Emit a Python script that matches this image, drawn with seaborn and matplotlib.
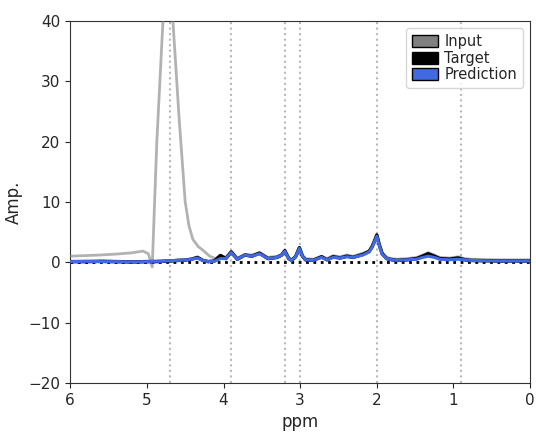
"""MRS spectrum: input vs target vs prediction."""

import numpy as np
import pandas as pd
import matplotlib
matplotlib.use("Agg")
import matplotlib.pyplot as plt
from matplotlib.patches import Patch
import seaborn as sns

# --- data --------------------------------------------------------------
ppm_input = [6.0, 5.8, 5.6, 5.4, 5.2, 5.05, 4.98, 4.93, 4.87, 4.79, 4.73, 4.66,
             4.58, 4.50, 4.45, 4.40, 4.33, 4.27, 4.18, 4.10, 4.04, 3.97, 3.90,
             3.82, 3.72, 3.63, 3.53, 3.42, 3.30, 3.24, 3.20, 3.15, 3.11, 3.06,
             3.01, 2.97, 2.93, 2.83, 2.72, 2.65, 2.57, 2.48, 2.39, 2.31, 2.18,
             2.10, 2.06, 2.03, 2.00, 1.97, 1.93, 1.87, 1.80, 1.74, 1.61, 1.48,
             1.40, 1.33, 1.25, 1.18, 1.05, 0.94, 0.85, 0.78, 0.6, 0.4, 0.2, 0.0]
amp_input = [1.0, 1.1, 1.2, 1.35, 1.55, 1.85, 1.4, -0.8, 20.0, 40.0, 55.0, 40.0,
             24.0, 10.0, 6.0, 3.8, 2.6, 2.0, 1.0, 0.6, 1.2, 0.8, 1.8,
             0.7, 1.3, 1.2, 1.6, 0.8, 1.0, 1.3, 2.0, 0.8, 0.5, 1.0,
             2.5, 1.1, 0.6, 0.5, 1.0, 0.6, 1.1, 0.9, 1.2, 1.0, 1.5,
             1.9, 2.7, 3.6, 4.6, 3.1, 1.6, 0.8, 0.6, 0.5, 0.6, 0.8,
             1.2, 1.6, 1.2, 0.8, 0.7, 0.9, 0.6, 0.5, 0.45, 0.4, 0.4, 0.4]

ppm = [6.0, 5.8, 5.6, 5.4, 5.2, 5.0, 4.9, 4.8, 4.7, 4.6, 4.5, 4.42, 4.34, 4.27,
       4.2, 4.12, 4.04, 3.97, 3.90, 3.82, 3.72, 3.63, 3.53, 3.42, 3.30, 3.24,
       3.20, 3.15, 3.11, 3.06, 3.01, 2.97, 2.93, 2.83, 2.72, 2.65, 2.57, 2.48,
       2.39, 2.31, 2.18, 2.10, 2.06, 2.03, 2.00, 1.97, 1.93, 1.87, 1.80, 1.74,
       1.61, 1.48, 1.40, 1.33, 1.25, 1.18, 1.05, 0.94, 0.85, 0.78, 0.6, 0.4,
       0.2, 0.0]
amp_target = [0.1, 0.1, 0.15, 0.1, 0.05, 0.1, 0.1, 0.15, 0.2, 0.3, 0.35, 0.5,
              0.8, 0.3, 0.1, 0.2, 1.1, 0.6, 1.7, 0.5, 1.2, 1.0, 1.5, 0.6, 0.8,
              1.2, 1.9, 0.6, 0.3, 0.9, 2.4, 1.0, 0.4, 0.3, 0.9, 0.4, 0.9, 0.7,
              1.0, 0.8, 1.3, 1.8, 2.6, 3.5, 4.5, 3.0, 1.4, 0.6, 0.4, 0.3,
              0.4, 0.6, 1.0, 1.4, 1.0, 0.6, 0.5, 0.7, 0.4, 0.3, 0.25, 0.2,
              0.2, 0.2]
amp_pred = [0.1, 0.15, 0.1, 0.1, 0.05, 0.1, 0.15, 0.15, 0.25, 0.3, 0.35, 0.5,
            0.7, 0.3, 0.1, 0.15, 0.6, 0.6, 1.6, 0.5, 1.2, 1.0, 1.4, 0.6, 0.8,
            1.2, 1.8, 0.6, 0.3, 0.9, 2.3, 1.0, 0.4, 0.3, 0.8, 0.4, 0.8, 0.7,
            0.9, 0.8, 1.2, 1.7, 2.5, 3.4, 4.3, 2.9, 1.3, 0.6, 0.4, 0.3,
            0.4, 0.5, 0.8, 1.0, 0.8, 0.5, 0.4, 0.5, 0.4, 0.3, 0.25, 0.2,
            0.2, 0.2]

marker_ppm = [4.7, 3.9, 3.2, 3.0, 2.0, 0.9]

# --- plot ---------------------------------------------------------------
sns.set_style("ticks")
plt.rcParams['font.family'] = ['DejaVu Sans']

fig = plt.figure(figsize=(5.36, 4.38), dpi=100)
ax = fig.add_axes([0.131, 0.126, 0.858, 0.826])

for m in marker_ppm:
    ax.axvline(m, color='#b8b8b8', linestyle=':', linewidth=1.5, zorder=1)
ax.axhline(0, color='black', linestyle=':', linewidth=2, zorder=2)

sns.lineplot(x=ppm_input, y=amp_input, color='gray', alpha=0.6, linewidth=2,
             estimator=None, sort=False, ax=ax, zorder=3)
sns.lineplot(x=ppm, y=amp_target, color='black', linewidth=2.5,
             estimator=None, sort=False, ax=ax, zorder=4)
sns.lineplot(x=ppm, y=amp_pred, color='royalblue', linewidth=2.2,
             estimator=None, sort=False, ax=ax, zorder=5)

ax.set_xlim(6, 0)
ax.set_ylim(-20, 40)
ax.set_xlabel('ppm', fontsize=12)
ax.set_ylabel('Amp.', fontsize=12)
ax.tick_params(labelsize=11)
for s in ax.spines.values():
    s.set_color('#333333')

handles = [Patch(facecolor='gray', edgecolor='black', label='Input'),
           Patch(facecolor='black', edgecolor='black', label='Target'),
           Patch(facecolor='royalblue', edgecolor='black', label='Prediction')]
ax.legend(handles=handles, loc='upper right', fontsize=10.5,
          handlelength=1.8, handleheight=0.9, labelspacing=0.1,
          handletextpad=0.4, borderpad=0.4, borderaxespad=0.5)

fig.savefig('out.png', dpi=100)
